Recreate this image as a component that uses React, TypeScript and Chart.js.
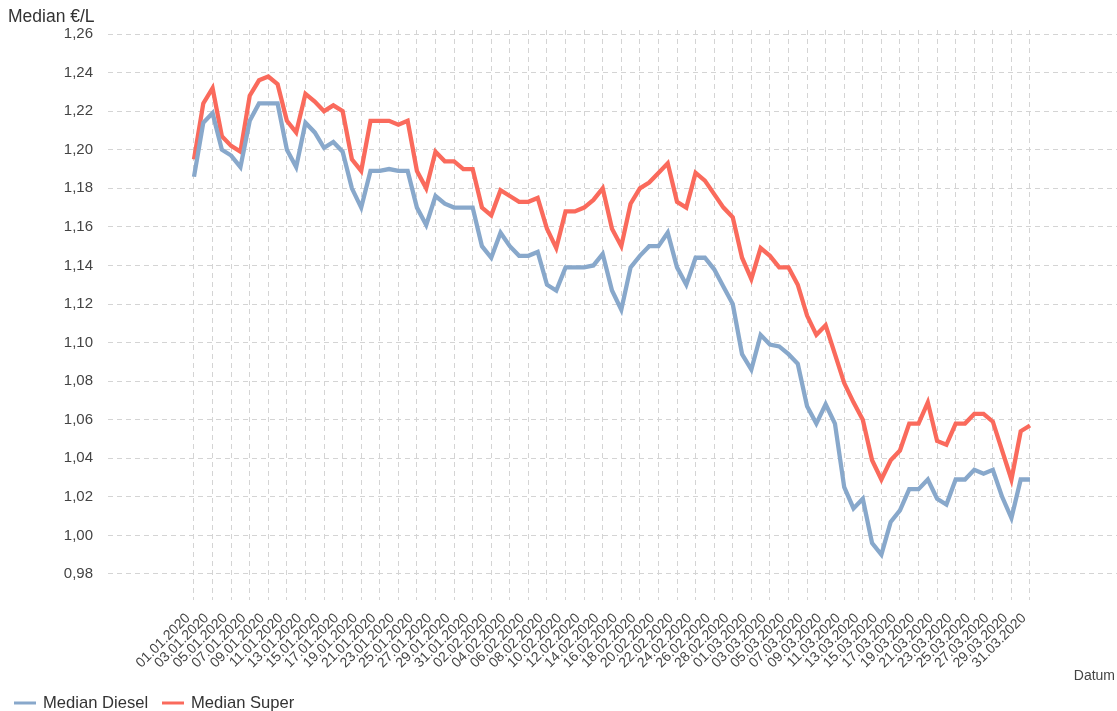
import React, { useEffect, useRef } from "react";
import { Chart, registerables } from "chart.js";

Chart.register(...registerables);

const startDate = { year: 2020, month: 1, day: 1 };
const dayCount = 91;

const dieselValues = [
  1.186, 1.214, 1.219, 1.2, 1.197, 1.191, 1.215, 1.224, 1.224, 1.224,
  1.2, 1.191, 1.214, 1.209, 1.201, 1.204, 1.199, 1.18, 1.17, 1.189,
  1.189, 1.19, 1.189, 1.189, 1.17, 1.161, 1.176, 1.172, 1.17, 1.17,
  1.17, 1.15, 1.144, 1.157, 1.15, 1.145, 1.145, 1.147, 1.13, 1.127,
  1.139, 1.139, 1.139, 1.14, 1.146, 1.127, 1.117, 1.139, 1.145, 1.15,
  1.15, 1.157, 1.139, 1.13, 1.144, 1.144, 1.138, 1.129, 1.12, 1.094,
  1.086, 1.104, 1.099, 1.098, 1.094, 1.089, 1.067, 1.058, 1.068, 1.058,
  1.025, 1.014, 1.019, 0.996, 0.99, 1.007, 1.013, 1.024, 1.024, 1.029,
  1.019, 1.016, 1.029, 1.029, 1.034, 1.032, 1.034, 1.02, 1.009, 1.029,
  1.029,
];

const superValues = [
  1.195, 1.224, 1.232, 1.207, 1.202, 1.199, 1.228, 1.236, 1.238, 1.234,
  1.215, 1.209, 1.229, 1.225, 1.22, 1.223, 1.22, 1.195, 1.189, 1.215,
  1.215, 1.215, 1.213, 1.215, 1.189, 1.18, 1.199, 1.194, 1.194, 1.19,
  1.19, 1.17, 1.166, 1.179, 1.176, 1.173, 1.173, 1.175, 1.159, 1.149,
  1.168, 1.168, 1.17, 1.174, 1.18, 1.159, 1.15, 1.172, 1.18, 1.183,
  1.188, 1.193, 1.173, 1.17, 1.188, 1.184, 1.177, 1.17, 1.165, 1.144,
  1.133, 1.149, 1.145, 1.139, 1.139, 1.13, 1.114, 1.104, 1.109, 1.094,
  1.079, 1.069, 1.06, 1.039, 1.029, 1.039, 1.044, 1.058, 1.058, 1.069,
  1.049, 1.047, 1.058, 1.058, 1.063, 1.063, 1.059, 1.044, 1.029, 1.054,
  1.057,
];

const yTickValues = [0.98, 1.0, 1.02, 1.04, 1.06, 1.08, 1.1, 1.12, 1.14, 1.16, 1.18, 1.2, 1.22, 1.24, 1.26];
const seriesNames = ["Median Diesel", "Median Super"];
const seriesColors = ["#88A8CB", "#FA6A5C"];
const yTitle = "Median €/L";
const xTitle = "Datum";

const pad2 = (n: number) => (n < 10 ? "0" + n : "" + n);
const dateLabels: string[] = [];
for (let i = 0; i < dayCount; i++) {
  const d = new Date(Date.UTC(startDate.year, startDate.month - 1, startDate.day + i));
  dateLabels.push(pad2(d.getUTCDate()) + "." + pad2(d.getUTCMonth() + 1) + "." + d.getUTCFullYear());
}
const xTickValues: number[] = [];
for (let i = 0; i < dayCount; i += 2) xTickValues.push(i);

const FONT = "'Liberation Sans', Arial, sans-serif";

const overlayPlugin = {
  id: "overlay",
  afterDraw(chart: any) {
    const ctx = chart.ctx;
    ctx.save();
    ctx.fillStyle = "#333333";
    ctx.font = `17.5px ${FONT}`;
    ctx.textAlign = "left";
    ctx.textBaseline = "middle";
    ctx.fillText(yTitle, 8, 17);

    ctx.fillStyle = "#444444";
    ctx.font = `14px ${FONT}`;
    ctx.textAlign = "right";
    ctx.fillText(xTitle, 1115, 676);

    // legend
    const ds = chart.data.datasets;
    const items = [
      { x0: 14, x1: 36, tx: 43 },
      { x0: 162, x1: 184, tx: 191 },
    ];
    ctx.font = `16.6px ${FONT}`;
    ctx.textAlign = "left";
    ds.forEach((d: any, i: number) => {
      const it = items[i];
      ctx.strokeStyle = d.borderColor;
      ctx.lineWidth = 3;
      ctx.beginPath();
      ctx.moveTo(it.x0, 703);
      ctx.lineTo(it.x1, 703);
      ctx.stroke();
      ctx.fillStyle = "#333333";
      ctx.fillText(d.label, it.tx, 703);
    });
    ctx.restore();
  },
};

export default function App() {
  const ref = useRef<HTMLCanvasElement | null>(null);
  useEffect(() => {
    if (!ref.current) return;
    const chart = new Chart(ref.current, {
      type: "line",
      data: {
        datasets: [
          {
            label: seriesNames[0],
            data: dieselValues.map((v, i) => ({ x: i, y: v })),
            borderColor: seriesColors[0],
            backgroundColor: seriesColors[0],
            borderWidth: 4.3,
            pointRadius: 0,
            tension: 0,
          },
          {
            label: seriesNames[1],
            data: superValues.map((v, i) => ({ x: i, y: v })),
            borderColor: seriesColors[1],
            backgroundColor: seriesColors[1],
            borderWidth: 4.3,
            pointRadius: 0,
            tension: 0,
          },
        ],
      },
      options: {
        animation: false,
        responsive: false,
        layout: { padding: { top: 30, right: 0, bottom: 0, left: 0 } },
        plugins: {
          legend: { display: false },
          tooltip: { enabled: false },
          title: { display: false },
        },
        scales: {
          x: {
            type: "linear",
            min: -9.258,
            max: 99.366,
            afterBuildTicks: (scale: any) => {
              scale.ticks = xTickValues.map((v) => ({ value: v }));
            },
            afterFit: (scale: any) => {
              scale.height = 111;
              scale.paddingLeft = 0;
              scale.paddingRight = 0;
            },
            grid: { color: "#D4D4D4", lineWidth: 1, drawTicks: false, borderDash: [5, 4] } as any,
            border: { display: false, dash: [5, 4] },
            ticks: {
              autoSkip: false,
              minRotation: 45,
              maxRotation: 45,
              padding: 10,
              labelOffset: -6,
              color: "#444444",
              font: { family: FONT, size: 14 },
              callback: (v: any) => dateLabels[v as number] ?? "",
            },
          },
          y: {
            type: "linear",
            min: 0.9665,
            max: 1.2621,
            afterBuildTicks: (scale: any) => {
              scale.ticks = yTickValues.map((v) => ({ value: v }));
            },
            afterFit: (scale: any) => {
              scale.width = 108;
            },
            grid: { color: "#D4D4D4", lineWidth: 1, drawTicks: false, borderDash: [5, 4] } as any,
            border: { display: false, dash: [5, 4] },
            ticks: {
              padding: 15,
              color: "#444444",
              font: { family: FONT, size: 15 },
              callback: (v: any) => Number(v).toFixed(2).replace(".", ","),
            },
          },
        },
      },
      plugins: [overlayPlugin],
    });
    return () => chart.destroy();
  }, []);
  return (
    <div style={{ position: "fixed", left: 0, top: 0, width: 1117, height: 711, background: "#fff" }}>
      <canvas ref={ref} width={1117} height={711} style={{ display: "block" }} />
    </div>
  );
}
